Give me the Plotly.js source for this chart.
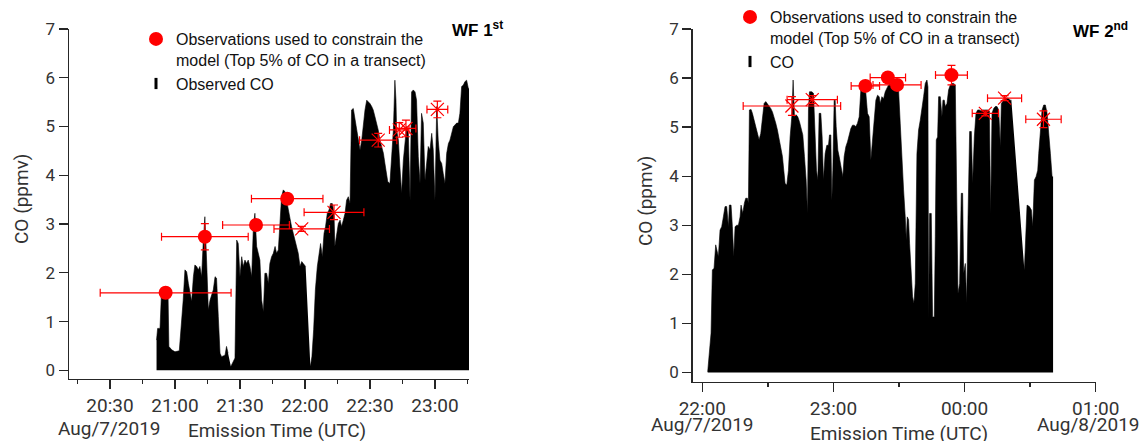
<!DOCTYPE html>
<html>
<head>
<meta charset="utf-8">
<script src="https://cdn.plot.ly/plotly-3.0.1.min.js"></script>
<style>html,body{margin:0;padding:0;background:#fff;}#chart{width:1141px;height:441px;}</style>
</head>
<body>
<div id="chart"></div>
<script>
// ---------- WF 1st (time in minutes after 20:00 UTC, Aug 7 2019) ----------
var coTime1 = [51.5,52.0,53.1,53.7,54.6,56.2,56.8,57.2,58.5,60.0,62.0,63.1,63.8,64.6,65.4,66.2,66.9,67.7,68.5,69.2,70.0,70.8,71.5,72.3,73.1,73.8,74.6,75.4,76.2,77.7,78.5,79.2,80.0,80.8,81.5,83.1,83.8,84.5,
  85.1,
  85.8,86.9,87.7,88.5,89.2,90.0,90.8,91.5,92.3,93.1,93.8,94.6,95.4,96.2,96.9,97.7,98.5,99.2,100.0,100.8,101.5,102.3,103.1,103.8,104.6,105.4,106.2,106.9,107.7,108.5,109.2,110.0,110.8,111.5,112.3,113.1,113.8,114.6,115.4,116.2,116.9,117.7,118.5,119.2,120.0,120.3,
  121.4,
  122.5,123.2,124.0,124.8,125.7,126.5,127.2,128.0,128.8,129.5,130.3,131.1,131.8,132.6,133.4,133.8,134.6,135.4,136.2,136.9,137.7,138.5,139.2,140.0,140.8,141.5,142.3,143.1,143.8,144.6,145.4,146.2,146.9,147.7,148.5,149.2,150.0,150.8,151.5,152.3,153.1,153.8,154.6,155.4,156.2,156.9,157.7,158.2,159.2,160.0,160.8,161.5,162.0,162.3,163.1,163.8,164.6,165.4,166.2,166.9,167.7,168.5,169.2,170.0,170.8,171.5,172.3,173.1,173.8,174.6,175.4,176.2,176.9,177.7,178.5,179.2,180.0,180.8,181.5,182.3,183.1,183.8,184.6,185.4,186.2,186.9,187.7,188.5,189.2,190.0,190.8,191.5,192.3,193.1,193.8,194.6,195.4,195.8];
var co1 = [0.62,0.86,0.86,1.51,1.61,1.65,1.58,0.49,0.42,0.38,0.40,0.96,1.44,2.06,2.02,1.78,1.58,1.41,1.92,2.16,2.13,2.06,2.13,1.92,2.67,3.15,2.26,1.24,1.44,1.65,1.92,1.89,1.10,0.35,0.28,0.31,0.49,0.35,
  null,
  0.08,0.18,0.25,2.67,2.60,1.92,2.33,2.13,2.26,2.19,2.26,2.13,1.92,2.95,3.22,2.54,2.40,2.26,1.44,1.20,1.99,1.99,1.78,2.19,2.33,2.40,2.54,2.40,2.47,3.08,3.56,3.70,3.66,3.49,3.29,3.15,2.95,2.81,2.67,2.54,2.40,2.13,2.23,2.19,2.13,2.13,
  null,
  0.08,0.28,0.83,1.65,2.13,2.40,2.60,2.33,2.81,2.95,3.22,3.29,3.42,3.42,3.22,2.54,2.81,3.01,3.08,2.95,3.08,3.22,3.49,3.56,3.42,5.34,5.37,5.13,5.00,4.72,4.52,4.72,5.07,5.34,5.54,5.51,5.47,5.41,5.34,5.20,5.07,4.93,4.72,4.59,4.45,4.24,4.04,3.87,3.83,4.31,4.93,5.95,5.54,4.93,4.72,4.18,3.63,4.31,4.72,5.00,4.86,3.49,5.71,5.75,5.71,5.54,4.38,3.83,5.27,5.07,3.90,4.38,4.59,4.52,4.86,4.52,3.49,5.41,4.72,4.31,4.24,4.04,3.83,4.45,4.65,4.72,4.86,5.00,5.03,5.07,5.07,5.27,5.82,5.85,5.92,5.95,5.78,5.78];

var usedTime1 = [55.7, 73.8, 97.4, 111.8];
var usedCO1 = [1.59, 2.74, 2.98, 3.52];
var usedTimeErr1 = [30.2, 20.0, 15.4, 16.5];
var usedCOErr1 = [0.1, 0.27, 0.1, 0.1];

var otherTime1 = [118.5, 133.4, 153.8, 163.5, 166.6, 181.1];
var otherCO1 = [2.90, 3.24, 4.72, 4.93, 4.96, 5.35];
var otherTimeErr1 = [12.8, 13.8, 8.6, 4.5, 4.6, 4.8];
var otherCOErr1 = [0.05, 0.15, 0.14, 0.15, 0.17, 0.17];

var tickVals1 = [30, 60, 90, 120, 150, 180];
var tickText1 = ['20:30', '21:00', '21:30', '22:00', '22:30', '23:00'];
var minorTicks1 = [15, 45, 75, 105, 135, 165, 195];
var dateLabel1 = 'Aug/7/2019';

// ---------- WF 2nd (time in minutes after 22:00 UTC, Aug 7 2019) ----------
var coTime2 = [2.46,3.08,3.99,4.60,5.36,6.12,7.34,8.11,8.87,9.63,10.40,11.16,11.62,11.93,12.38,13.15,13.76,14.37,14.98,15.74,16.51,17.27,17.73,18.49,19.25,19.86,20.63,21.09,21.55,22.31,22.92,23.68,24.45,25.21,25.98,26.74,27.50,28.26,29.03,29.79,30.55,31.32,32.08,32.84,33.61,34.37,35.13,35.90,36.66,37.27,37.88,38.65,39.41,40.17,40.94,41.55,42.16,42.92,43.68,44.45,45.21,45.98,46.74,47.50,48.11,48.57,49.03,50.10,50.86,51.62,52.24,52.85,53.46,54.22,54.83,55.44,56.20,56.97,57.73,58.19,58.80,59.26,59.72,60.33,60.79,61.25,62.01,62.62,63.23,63.84,64.30,64.91,65.67,66.43,67.20,67.96,68.72,69.49,70.25,71.01,71.78,72.54,73.76,74.83,75.59,76.35,77.12,77.88,78.64,79.41,80.17,80.94,
  81.40,82.16,82.93,83.69,85.22,86.75,88.27,89.80,90.56,91.33,92.09,92.85,93.31,93.77,94.38,94.84,95.45,96.21,96.82,97.43,98.20,98.96,99.72,100.49,101.25,102.01,102.78,103.24,103.54,104.00,104.76,105.37,106.14,106.60,107.05,107.66,108.12,108.89,109.65,110.11,110.72,111.18,111.94,112.70,113.47,114.23,114.99,115.76,116.52,116.98,117.74,118.50,119.12,119.57,120.34,120.95,121.56,122.32,123.09,123.70,124.46,125.22,125.99,126.75,127.51,128.28,129.04,129.80,130.57,131.33,131.94,132.55,133.32,134.08,134.84,135.61,136.37,136.83,137.90,138.97,139.88,140.80,141.41,
  144.0,
  147.36,148.59,149.66,150.57,151.18,151.95,152.71,153.47,153.93,154.69,155.46,156.22,156.98,157.75,158.51,159.27,160.04,160.50];
var co2 = [0.01,0.32,0.80,2.09,2.12,2.60,2.36,2.90,2.97,3.17,3.38,3.38,3.17,2.97,3.41,3.41,2.97,2.36,2.97,3.00,3.00,3.17,3.41,3.24,3.45,3.55,3.55,3.45,5.35,5.36,5.28,5.14,5.01,4.87,4.74,4.87,5.14,5.48,5.52,5.48,5.42,5.38,5.31,5.21,5.08,4.94,4.74,4.53,4.40,4.12,3.85,3.82,4.12,4.80,5.21,5.96,5.21,5.25,5.21,5.11,4.94,4.84,4.40,3.92,3.24,5.35,5.72,5.72,5.69,4.80,4.12,3.92,5.28,5.28,4.80,3.92,4.46,4.63,4.63,4.84,4.84,3.51,4.12,5.55,5.55,5.01,4.53,4.40,4.26,4.12,3.99,4.40,4.60,4.70,4.84,4.97,5.04,5.04,5.01,5.08,5.21,5.76,5.79,5.69,5.28,5.21,4.33,4.80,5.28,5.55,5.65,5.62,
  5.48,5.62,5.58,5.72,5.86,5.89,5.86,5.76,5.08,4.26,3.72,3.17,2.70,3.17,3.11,2.63,2.02,1.54,1.41,1.81,4.46,4.94,5.14,5.35,5.62,5.89,5.96,5.82,1.07,3.24,3.24,1.13,1.13,2.77,4.74,4.80,5.62,5.62,5.21,5.55,5.55,5.42,5.48,5.76,5.86,5.89,5.89,5.86,3.79,1.61,1.81,3.65,3.65,2.02,2.22,1.41,3.11,4.91,4.91,3.85,4.80,5.28,5.35,5.35,5.33,5.35,5.35,5.35,5.35,5.33,3.24,5.28,5.38,5.42,5.42,5.35,4.60,5.48,5.55,5.59,5.59,5.55,5.55,
  null,
  2.09,3.41,3.38,3.31,2.97,3.92,3.99,4.12,4.46,5.01,5.35,5.45,5.45,5.28,4.94,4.46,3.99,3.99];

var usedTime2 = [74.6, 84.9, 89.1, 114.0];
var usedCO2 = [5.84, 6.01, 5.86, 6.06];
var usedTimeErr2 = [6.5, 8.1, 11.0, 7.3];
var usedCOErr2 = [0.05, 0.05, 0.05, 0.2];

var otherTime2 = [41.0, 50.3, 129.5, 138.3, 156.1];
var otherCO2 = [5.43, 5.56, 5.28, 5.59, 5.16];
var otherTimeErr2 = [22.3, 11.5, 6.0, 7.8, 8.1];
var otherCOErr2 = [0.19, 0.08, 0.05, 0.05, 0.17];

var tickVals2 = [0, 60, 120, 180];
var tickText2 = ['22:00', '23:00', '00:00', '01:00'];
var minorTicks2 = [30, 90, 150];
var dateLabel2a = 'Aug/7/2019';
var dateLabel2b = 'Aug/8/2019';

var yTicks = [0, 1, 2, 3, 4, 5, 6, 7];

var usedName = 'Observations used to constrain the<br>model (Top 5% of CO in a transect)';

// ---------- styling ----------
var W = 1141, H = 441;
var RED = '#ff0000';
var AX = '#262626';
var TXT = '#333';
var tickFontX = {family: 'Roboto, sans-serif', size: 19, color: TXT};
var tickFontY = {family: 'Roboto, sans-serif', size: 17, color: TXT};
var titleFont = {family: 'Roboto, sans-serif', size: 19, color: TXT};
var legendFont = {family: '"Liberation Sans", Arial, sans-serif', size: 16, color: '#111'};
var wfFont = {family: '"Liberation Sans", Arial, sans-serif', size: 17, color: '#000'};

function errBar(arr) { return {type: 'data', array: arr, visible: true, color: RED, thickness: 1.2, width: 4}; }

var traces = [
  {x: coTime1, y: co1, xaxis: 'x', yaxis: 'y', mode: 'lines', line: {color: '#000', width: 0.6}, fill: 'tozeroy', fillcolor: '#000', connectgaps: false, showlegend: false, hoverinfo: 'skip'},
  {x: otherTime1, y: otherCO1, xaxis: 'x', yaxis: 'y', mode: 'markers', marker: {symbol: 'x-thin-open', size: 13, color: RED, line: {color: RED, width: 1.2}}, error_x: errBar(otherTimeErr1), error_y: errBar(otherCOErr1), showlegend: false},
  {x: usedTime1, y: usedCO1, xaxis: 'x', yaxis: 'y', mode: 'markers', marker: {symbol: 'circle', size: 14, color: RED}, error_x: errBar(usedTimeErr1), error_y: errBar(usedCOErr1), name: usedName, legend: 'legend', legendrank: 1},
  {x: [null], y: [null], xaxis: 'x', yaxis: 'y', mode: 'markers', marker: {symbol: 'line-ns', size: 8, color: '#000', line: {color: '#000', width: 3}}, name: 'Observed CO', legend: 'legend', legendrank: 2},

  {x: coTime2, y: co2, xaxis: 'x2', yaxis: 'y2', mode: 'lines', line: {color: '#000', width: 0.6}, fill: 'tozeroy', fillcolor: '#000', connectgaps: false, showlegend: false, hoverinfo: 'skip'},
  {x: otherTime2, y: otherCO2, xaxis: 'x2', yaxis: 'y2', mode: 'markers', marker: {symbol: 'x-thin-open', size: 13, color: RED, line: {color: RED, width: 1.2}}, error_x: errBar(otherTimeErr2), error_y: errBar(otherCOErr2), showlegend: false},
  {x: usedTime2, y: usedCO2, xaxis: 'x2', yaxis: 'y2', mode: 'markers', marker: {symbol: 'circle', size: 14, color: RED}, error_x: errBar(usedTimeErr2), error_y: errBar(usedCOErr2), name: usedName, legend: 'legend2', legendrank: 1},
  {x: [null], y: [null], xaxis: 'x2', yaxis: 'y2', mode: 'markers', marker: {symbol: 'line-ns', size: 8, color: '#000', line: {color: '#000', width: 3}}, name: 'CO', legend: 'legend2', legendrank: 2}
];

function xAxis(dom, rng, tv, tt, mt, anchor) {
  return {domain: dom, range: rng, anchor: anchor, showline: true, linecolor: AX, linewidth: 1.5, mirror: false,
    ticks: 'outside', ticklen: 9, tickwidth: 1.3, tickcolor: AX, tickmode: 'array', tickvals: tv, ticktext: tt, tickangle: 0,
    minor: {tickmode: 'array', tickvals: mt, ticks: 'outside', ticklen: 4, tickwidth: 1.3, tickcolor: AX, showgrid: false},
    showgrid: false, zeroline: false, tickfont: tickFontX, fixedrange: true};
}
function yAxis(dom, rng, anchor) {
  return {domain: dom, range: rng, anchor: anchor, showline: true, linecolor: AX, linewidth: 1.5,
    ticks: 'outside', ticklen: 9, tickwidth: 1.3, tickcolor: AX, tickmode: 'array', tickvals: yTicks,
    showgrid: false, zeroline: false, tickfont: tickFontY, fixedrange: true};
}

var layout = {
  width: W, height: H,
  margin: {l: 0, r: 0, t: 0, b: 0},
  paper_bgcolor: '#fff', plot_bgcolor: 'rgba(0,0,0,0)',
  xaxis: xAxis([69 / W, 469 / W], [11.1, 195.7], tickVals1, tickText1, minorTicks1, 'y'),
  yaxis: yAxis([1 - 378.5 / H, 1 - 29 / H], [-0.168, 7], 'x'),
  xaxis2: xAxis([692.7 / W, 1095.7 / W], [-4.4, 180], tickVals2, tickText2, minorTicks2, 'y2'),
  yaxis2: yAxis([1 - 381.7 / H, 1 - 29 / H], [-0.19, 7], 'x2'),
  legend: {x: 136 / W, y: 1 - 22 / H, xanchor: 'left', yanchor: 'top', bgcolor: 'rgba(0,0,0,0)', font: legendFont, valign: 'top', tracegroupgap: 0},
  legend2: {x: 730 / W, y: 1 - 0 / H, xanchor: 'left', yanchor: 'top', bgcolor: 'rgba(0,0,0,0)', font: legendFont, valign: 'top', tracegroupgap: 0},
  showlegend: true,
  annotations: [
    {xref: 'paper', yref: 'paper', x: 450 / W, y: 1 - 29 / H, xanchor: 'left', yanchor: 'middle', showarrow: false,
      text: '<b>WF 1<sup>st</sup></b>', font: wfFont},
    {xref: 'paper', yref: 'paper', x: 1071 / W, y: 1 - 30 / H, xanchor: 'left', yanchor: 'middle', showarrow: false,
      text: '<b>WF 2<sup>nd</sup></b>', font: wfFont},
    {xref: 'x', yref: 'paper', x: tickVals1[0], y: 1 - 428 / H, xanchor: 'center', yanchor: 'middle', showarrow: false,
      text: dateLabel1, font: tickFontX},
    {xref: 'x2', yref: 'paper', x: tickVals2[0], y: 1 - 424 / H, xanchor: 'center', yanchor: 'middle', showarrow: false,
      text: dateLabel2a, font: tickFontX},
    {xref: 'x2', yref: 'paper', x: tickVals2[3], y: 1 - 424 / H, xanchor: 'center', xshift: -7, yanchor: 'middle', showarrow: false,
      text: dateLabel2b, font: tickFontX},
    {xref: 'paper', yref: 'paper', x: 277 / W, y: 1 - 430 / H, xanchor: 'center', yanchor: 'middle', showarrow: false,
      text: 'Emission Time (UTC)', font: titleFont},
    {xref: 'paper', yref: 'paper', x: 899 / W, y: 1 - 433 / H, xanchor: 'center', yanchor: 'middle', showarrow: false,
      text: 'Emission Time (UTC)', font: titleFont},
    {xref: 'paper', yref: 'paper', x: 21 / W, y: 1 - 199 / H, xanchor: 'center', yanchor: 'middle', showarrow: false, textangle: -90,
      text: 'CO (ppmv)', font: titleFont},
    {xref: 'paper', yref: 'paper', x: 645 / W, y: 1 - 201 / H, xanchor: 'center', yanchor: 'middle', showarrow: false, textangle: -90,
      text: 'CO (ppmv)', font: titleFont}
  ]
};

Plotly.newPlot('chart', traces, layout, {staticPlot: true, displayModeBar: false});
</script>
</body>
</html>
